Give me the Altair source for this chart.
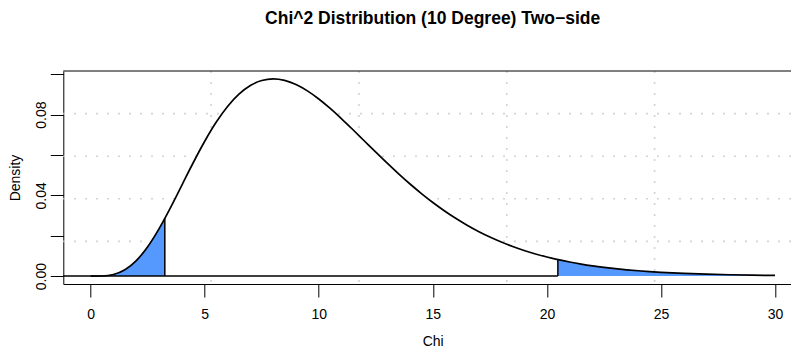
import altair as alt
import pandas as pd

# Chi-square (10 df) density
chi_x = [0, 0.5, 1, 1.5, 2, 2.5, 3, 3.25, 3.5, 4, 4.5, 5, 5.5, 6, 6.5, 7, 7.5, 8,
         8.5, 9, 9.5, 10, 10.5, 11, 11.5, 12, 12.5, 13, 13.5, 14, 14.5, 15, 15.5,
         16, 16.5, 17, 17.5, 18, 18.5, 19, 19.5, 20, 20.48, 20.5, 21, 21.5, 22,
         22.5, 23, 23.5, 24, 24.5, 25, 26, 27, 28, 29, 30]
density = [0.0, 0.0000634, 0.000790, 0.003114, 0.007664, 0.014572, 0.023533,
           0.028607, 0.033954, 0.045112, 0.056276, 0.066800, 0.076169, 0.084015,
           0.090122, 0.094406, 0.096890, 0.097683, 0.096952, 0.094903, 0.091755,
           0.087734, 0.083052, 0.077910, 0.072484, 0.066928, 0.061369, 0.055910,
           0.050639, 0.045613, 0.040876, 0.036458, 0.032373, 0.028626, 0.025214,
           0.022128, 0.019352, 0.016869, 0.014659, 0.012702, 0.010975, 0.009458,
           0.008180, 0.008131, 0.006973, 0.005967, 0.005094, 0.004341, 0.003691,
           0.003133, 0.002654, 0.002245, 0.001895, 0.001345, 0.000949, 0.000666,
           0.000464, 0.000323]

lower_q = 3.25
upper_q = 20.48
lower_q_density = 0.028607
upper_q_density = 0.008180

grid_x = [5.28, 11.76, 18.24, 24.72]
grid_y = [0.01719, 0.03829, 0.05939, 0.08049]

x_ticks = [0, 5, 10, 15, 20, 25, 30]
y_ticks = [0, 0.02, 0.04, 0.06, 0.08, 0.10]

baseline_start = [-1.2]
baseline_end = [upper_q]

title_text = "Chi^2 Distribution (10 Degree) Two\u2212side"

FONT = "Liberation Sans"
BLUE = "#5599FF"

df = pd.DataFrame({"chi": chi_x, "density": density})
lower = df[df.chi <= lower_q]
middle = df[(df.chi >= lower_q) & (df.chi <= upper_q)]
upper = df[df.chi >= upper_q]

PLOT_W = 727.7
x_scale = alt.Scale(domain=[-1.2, 30.70], nice=False, zero=False)
y_scale = alt.Scale(domain=[-0.00391, 0.10159], nice=False, zero=False)

x_axis = alt.Axis(values=x_ticks, format="d", grid=False, domain=True,
                  domainColor="black", tickColor="black", tickSize=13,
                  labelColor="black", labelFont=FONT, labelFontSize=14,
                  labelPadding=21, labelBaseline="alphabetic", labelAlign="center",
                  labelFlush=False, labelOverlap=False,
                  title="Chi", titleFont=FONT, titleFontSize=14,
                  titleFontWeight="normal", titleColor="black",
                  titleX=369.4, titleY=61, titleAlign="center",
                  titleBaseline="alphabetic")
y_axis = alt.Axis(values=y_ticks, grid=False, domain=True,
                  domainColor="black", tickColor="black", tickSize=13,
                  labelExpr="round(datum.value*100) % 4 == 0 ? format(datum.value, '.2f') : ''",
                  labelColor="black", labelFont=FONT, labelFontSize=14,
                  labelAngle=270, labelAlign="center", labelBaseline="alphabetic",
                  labelPadding=5.3, labelFlush=False, labelOverlap=False,
                  title="Density", titleFont=FONT, titleFontSize=14,
                  titleFontWeight="normal", titleColor="black",
                  titleAngle=270, titleX=-43.5, titleY=106.5, titleAlign="center",
                  titleBaseline="alphabetic")


def X(field="chi"):
    return alt.X(f"{field}:Q", scale=x_scale, axis=x_axis, title="Chi")


def Y(field="density"):
    return alt.Y(f"{field}:Q", scale=y_scale, axis=y_axis, title="Density")


vgrid = alt.Chart(pd.DataFrame({"chi": grid_x})).mark_rule(
    color="#D3D3D3", strokeDash=[2, 9], strokeWidth=1.6).encode(x=X())
hgrid = alt.Chart(pd.DataFrame({"density": grid_y})).mark_rule(
    color="#D3D3D3", strokeDash=[2, 9], strokeWidth=1.6).encode(y=Y())

mid_area = alt.Chart(middle).mark_area(color="white", interpolate="monotone").encode(
    x=X(), y=Y(), y2=alt.datum(0))
low_area = alt.Chart(lower).mark_area(color=BLUE, interpolate="monotone").encode(
    x=X(), y=Y(), y2=alt.datum(0))
up_area = alt.Chart(upper).mark_area(color=BLUE, interpolate="monotone").encode(
    x=X(), y=Y(), y2=alt.datum(0))

curve = alt.Chart(df).mark_line(color="black", strokeWidth=1.7,
                                interpolate="monotone").encode(x=X(), y=Y())

qlines = alt.Chart(pd.DataFrame({"chi": [lower_q, upper_q],
                                 "density": [lower_q_density, upper_q_density]})
                   ).mark_rule(color="black", strokeWidth=1.5).encode(
    x=X(), y=Y(), y2=alt.datum(0))

baseline = alt.Chart(pd.DataFrame({"chi": baseline_start, "chi_end": baseline_end})
                     ).mark_rule(color="black", strokeWidth=1.5).encode(
    x=X(), x2="chi_end:Q", y=alt.datum(0))

top_border = alt.Chart(pd.DataFrame({"chi": [0]})).mark_rule(
    color="black", strokeWidth=1).encode(y=alt.value(0))

chart = alt.layer(vgrid, hgrid, mid_area, low_area, up_area, baseline, qlines,
                  curve, top_border).properties(
    width=PLOT_W, height=213,
    padding={"left": 55.3, "top": 63, "right": 0, "bottom": 70},
    autosize=alt.AutoSizeParams(type="none"),
    title=alt.TitleParams(title_text, font=FONT, fontSize=17.5, fontWeight="bold",
                          color="black", anchor="middle", frame="group", dx=5.5,
                          offset=29, baseline="alphabetic"),
    background="white",
).configure_view(stroke=None)

chart.save("out.html", embed_options={"renderer": "svg", "actions": False})
